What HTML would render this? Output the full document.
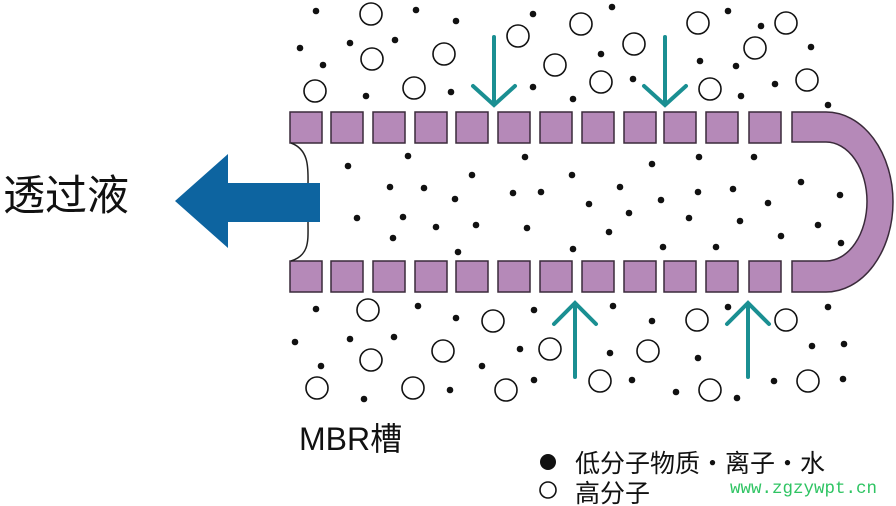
<!DOCTYPE html><html><head><meta charset="utf-8"><style>
body{margin:0;background:#fff;}
</style></head><body>
<svg width="896" height="506" viewBox="0 0 896 506" xmlns="http://www.w3.org/2000/svg" style="display:block">
<rect width="896" height="506" fill="#fff"/>
<g fill="#b589b8" stroke="#3a2a3a" stroke-width="1.5">
<rect x="290" y="112" width="32" height="31"/><rect x="331" y="112" width="32" height="31"/><rect x="373" y="112" width="32" height="31"/><rect x="415" y="112" width="32" height="31"/><rect x="456" y="112" width="32" height="31"/><rect x="498" y="112" width="32" height="31"/><rect x="540" y="112" width="32" height="31"/><rect x="582" y="112" width="32" height="31"/><rect x="624" y="112" width="32" height="31"/><rect x="664" y="112" width="32" height="31"/><rect x="706" y="112" width="32" height="31"/><rect x="749" y="112" width="32" height="31"/>
<rect x="290" y="261" width="32" height="31"/><rect x="331" y="261" width="32" height="31"/><rect x="373" y="261" width="32" height="31"/><rect x="415" y="261" width="32" height="31"/><rect x="456" y="261" width="32" height="31"/><rect x="498" y="261" width="32" height="31"/><rect x="540" y="261" width="32" height="31"/><rect x="582" y="261" width="32" height="31"/><rect x="624" y="261" width="32" height="31"/><rect x="664" y="261" width="32" height="31"/><rect x="706" y="261" width="32" height="31"/><rect x="749" y="261" width="32" height="31"/>
<path d="M792 112 L826 112 A67 90 0 0 1 826 292 L792 292 L792 261 L826 261 A41 59.5 0 0 0 826 142 L792 142 Z"/>
</g>
<path d="M291 143 C310 150 308 170 308 185 M308 222 C308 240 310 255 291 261" fill="none" stroke="#222" stroke-width="1.5"/>
<path d="M320 183 L228 183 L228 154 L175 201 L228 248 L228 222 L320 222 Z" fill="#0d64a0"/>
<g stroke="#1a8f92" stroke-width="4" fill="none" stroke-linecap="round">
<path d="M494 37 V104 M473 86 L494 105 L515 86"/>
<path d="M665 37 V104 M644 86 L665 105 L686 86"/>
<path d="M575 377 V304 M554 324 L575 303 L596 324"/>
<path d="M748 377 V304 M727 324 L748 303 L769 324"/>
</g>
<g fill="none" stroke="#111" stroke-width="1.6">
<circle cx="371" cy="14" r="11"/><circle cx="372" cy="59" r="11"/><circle cx="315" cy="91" r="11"/><circle cx="444" cy="54" r="11"/><circle cx="414" cy="88" r="11"/><circle cx="518" cy="36" r="11"/><circle cx="555" cy="65" r="11"/><circle cx="581" cy="24" r="11"/><circle cx="634" cy="44" r="11"/><circle cx="601" cy="82" r="11"/><circle cx="698" cy="23" r="11"/><circle cx="786" cy="23" r="11"/><circle cx="755" cy="48" r="11"/><circle cx="710" cy="89" r="11"/><circle cx="807" cy="80" r="11"/>
<circle cx="368" cy="310" r="11"/><circle cx="493" cy="321" r="11"/><circle cx="371" cy="360" r="11"/><circle cx="443" cy="351" r="11"/><circle cx="317" cy="388" r="11"/><circle cx="413" cy="388" r="11"/><circle cx="506" cy="390" r="11"/><circle cx="550" cy="349" r="11"/><circle cx="600" cy="381" r="11"/><circle cx="648" cy="351" r="11"/><circle cx="697" cy="320" r="11"/><circle cx="786" cy="320" r="11"/><circle cx="710" cy="390" r="11"/><circle cx="808" cy="381" r="11"/>
<circle cx="548" cy="490" r="8"/>
</g>
<g fill="#111">
<circle cx="316" cy="11" r="3.3"/><circle cx="416" cy="10" r="3.3"/><circle cx="456" cy="21" r="3.3"/><circle cx="533" cy="14" r="3.3"/><circle cx="612" cy="7" r="3.3"/><circle cx="728" cy="11" r="3.3"/><circle cx="300" cy="48" r="3.3"/><circle cx="350" cy="43" r="3.3"/><circle cx="395" cy="40" r="3.3"/><circle cx="323" cy="65" r="3.3"/><circle cx="366" cy="96" r="3.3"/><circle cx="451" cy="92" r="3.3"/><circle cx="533" cy="87" r="3.3"/><circle cx="573" cy="99" r="3.3"/><circle cx="601" cy="54" r="3.3"/><circle cx="633" cy="79" r="3.3"/><circle cx="700" cy="61" r="3.3"/><circle cx="736" cy="66" r="3.3"/><circle cx="741" cy="96" r="3.3"/><circle cx="761" cy="26" r="3.3"/><circle cx="811" cy="47" r="3.3"/><circle cx="775" cy="84" r="3.3"/><circle cx="828" cy="105" r="3.3"/>
<circle cx="348" cy="166" r="3.3"/><circle cx="408" cy="156" r="3.3"/><circle cx="390" cy="187" r="3.3"/><circle cx="424" cy="188" r="3.3"/><circle cx="455" cy="199" r="3.3"/><circle cx="472" cy="175" r="3.3"/><circle cx="525" cy="157" r="3.3"/><circle cx="357" cy="218" r="3.3"/><circle cx="403" cy="217" r="3.3"/><circle cx="436" cy="227" r="3.3"/><circle cx="476" cy="225" r="3.3"/><circle cx="393" cy="238" r="3.3"/><circle cx="458" cy="252" r="3.3"/><circle cx="513" cy="193" r="3.3"/><circle cx="541" cy="192" r="3.3"/><circle cx="527" cy="228" r="3.3"/><circle cx="572" cy="175" r="3.3"/><circle cx="573" cy="249" r="3.3"/>
<circle cx="652" cy="164" r="3.3"/><circle cx="699" cy="157" r="3.3"/><circle cx="754" cy="157" r="3.3"/><circle cx="620" cy="187" r="3.3"/><circle cx="589" cy="204" r="3.3"/><circle cx="661" cy="200" r="3.3"/><circle cx="698" cy="192" r="3.3"/><circle cx="733" cy="189" r="3.3"/><circle cx="768" cy="203" r="3.3"/><circle cx="801" cy="182" r="3.3"/><circle cx="840" cy="195" r="3.3"/><circle cx="629" cy="213" r="3.3"/><circle cx="689" cy="218" r="3.3"/><circle cx="740" cy="221" r="3.3"/><circle cx="609" cy="232" r="3.3"/><circle cx="663" cy="247" r="3.3"/><circle cx="716" cy="247" r="3.3"/><circle cx="781" cy="236" r="3.3"/><circle cx="818" cy="225" r="3.3"/><circle cx="841" cy="243" r="3.3"/>
<circle cx="316" cy="309" r="3.3"/><circle cx="418" cy="306" r="3.3"/><circle cx="456" cy="318" r="3.3"/><circle cx="534" cy="310" r="3.3"/><circle cx="613" cy="306" r="3.3"/><circle cx="652" cy="321" r="3.3"/><circle cx="728" cy="307" r="3.3"/><circle cx="828" cy="307" r="3.3"/><circle cx="295" cy="342" r="3.3"/><circle cx="350" cy="339" r="3.3"/><circle cx="394" cy="337" r="3.3"/><circle cx="321" cy="366" r="3.3"/><circle cx="482" cy="366" r="3.3"/><circle cx="520" cy="349" r="3.3"/><circle cx="610" cy="353" r="3.3"/><circle cx="698" cy="358" r="3.3"/><circle cx="812" cy="346" r="3.3"/><circle cx="844" cy="344" r="3.3"/><circle cx="364" cy="399" r="3.3"/><circle cx="450" cy="390" r="3.3"/><circle cx="534" cy="380" r="3.3"/><circle cx="632" cy="380" r="3.3"/><circle cx="676" cy="392" r="3.3"/><circle cx="737" cy="398" r="3.3"/><circle cx="774" cy="381" r="3.3"/><circle cx="843" cy="379" r="3.3"/>
<circle cx="548" cy="462" r="8"/>
</g>
<g font-family="'Liberation Sans','Noto Sans CJK SC',sans-serif" fill="#111">
<text x="3" y="210" font-size="42">透过液</text>
<text x="299" y="450" font-size="32">MBR槽</text>
<text x="575" y="472" font-size="25">低分子物质・离子・水</text>
<text x="575" y="502" font-size="25">高分子</text>
</g>
<text x="730" y="493" font-family="'Liberation Mono',monospace" font-size="17.5" fill="#2fc463">www.zgzywpt.cn</text>
</svg>
</body></html>
